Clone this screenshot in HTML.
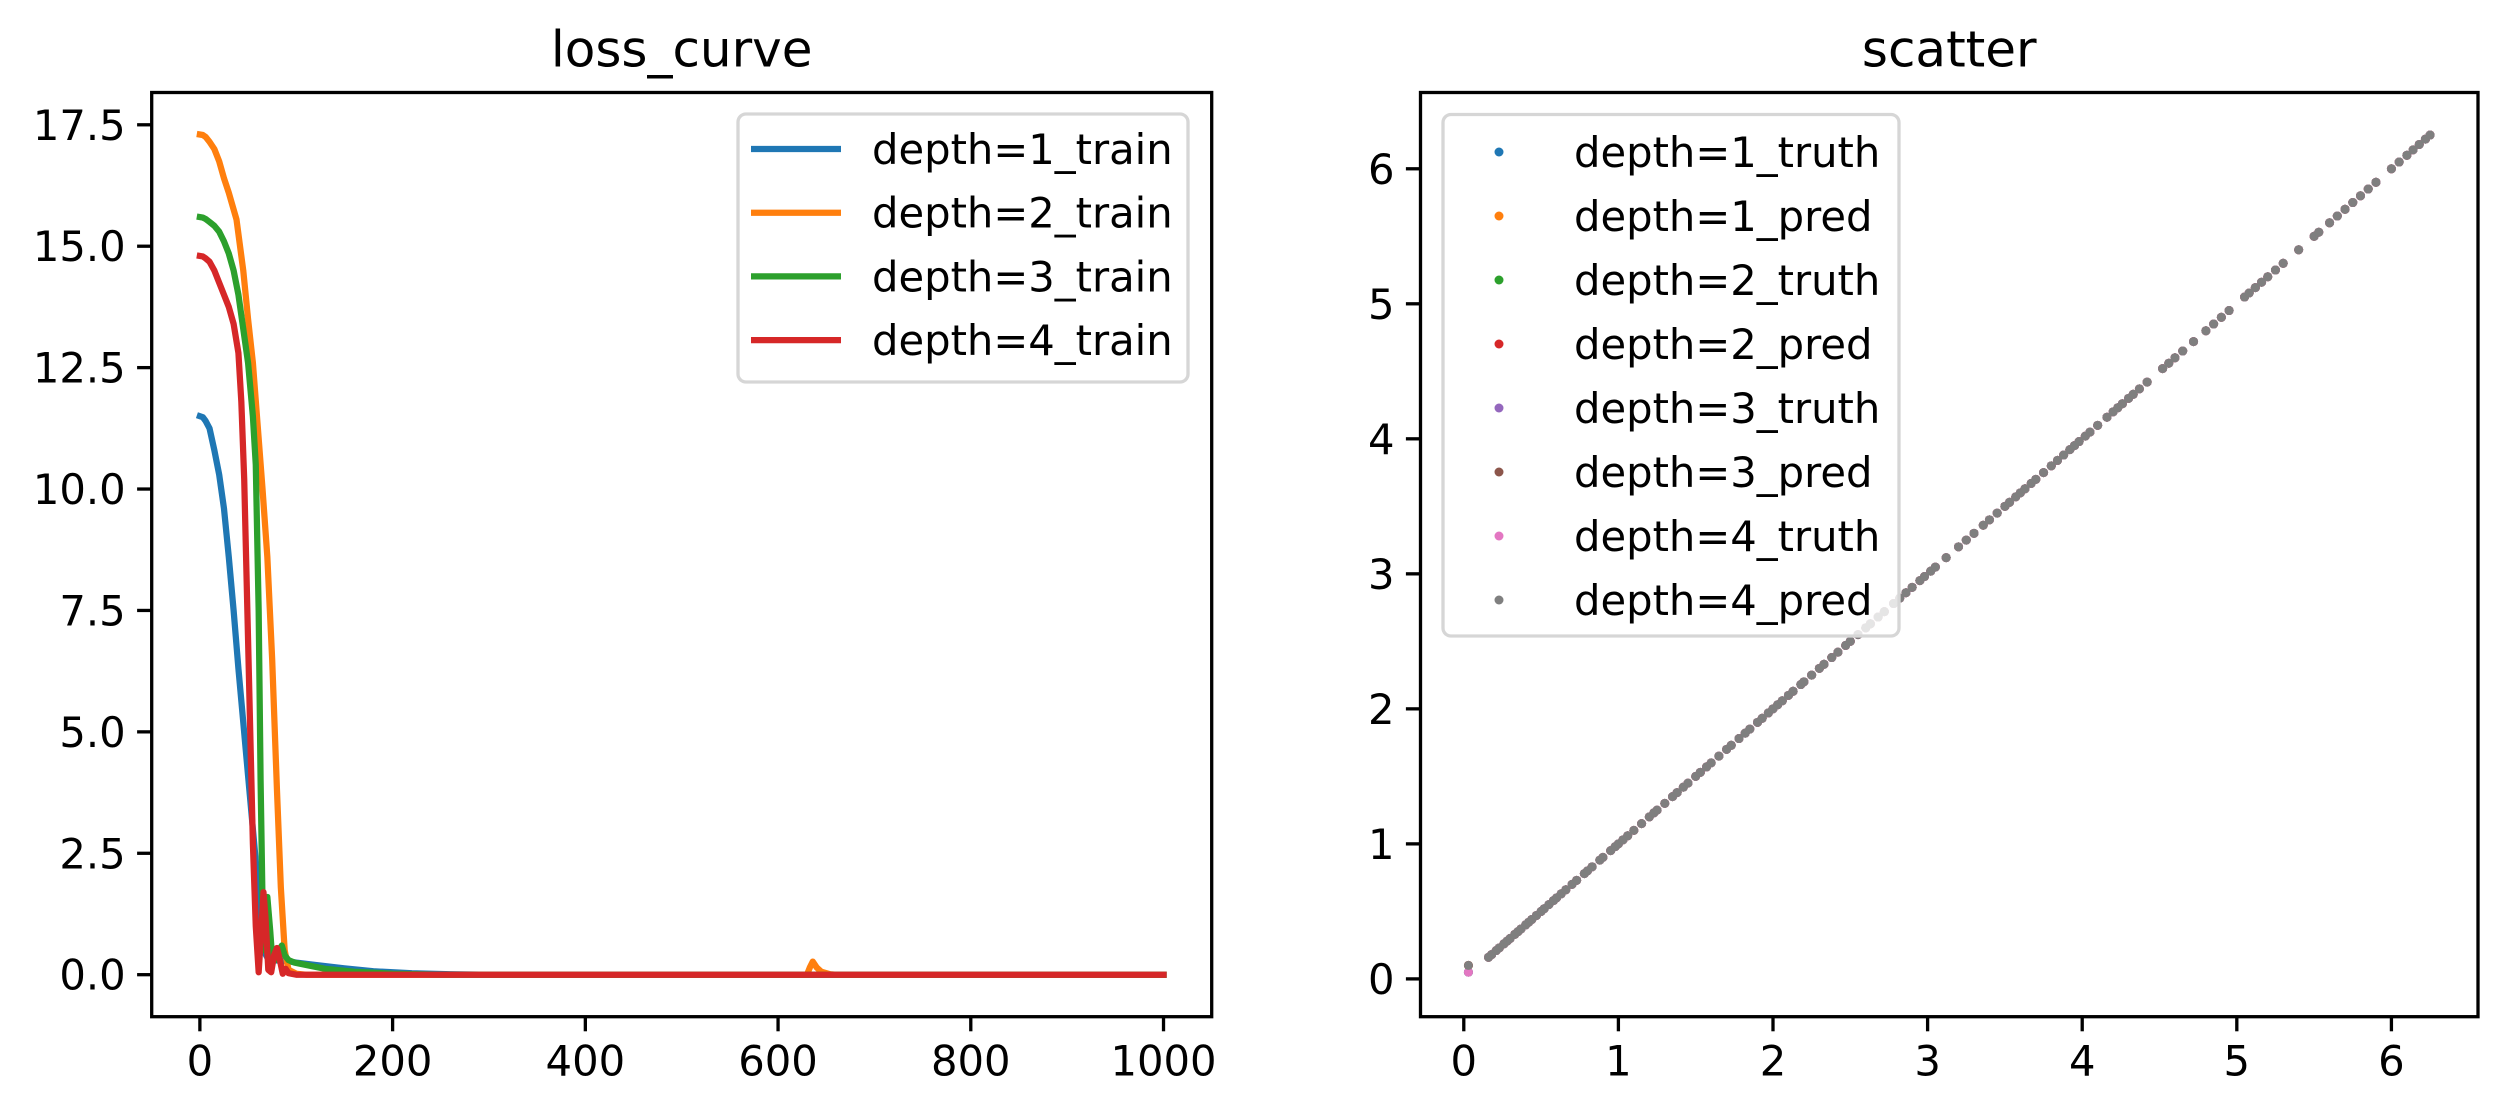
<!DOCTYPE html>
<html><head><meta charset="utf-8"><style>
html,body{margin:0;padding:0;background:#fff;}
svg{display:block;font-family:"DejaVu Sans","Liberation Sans",sans-serif;}
</style></head><body>
<svg id="fig" width="2506" height="1118" viewBox="0 0 2506 1118" xmlns="http://www.w3.org/2000/svg">
<rect width="2506" height="1118" fill="#fff"/>
<g id="left"></g>
<g id="right"></g>
</svg>
<script>
// ---- loss curve data ----
const seriesNames = ["depth=1_train","depth=2_train","depth=3_train","depth=4_train"];
const lossX1 = [0,3,6,10,15,20,25,30,35,40,45,50,55,60,63,66,70,75,90,100,120,150,180,220,260,300,1000];
const lossY1 = [11.5,11.48,11.4,11.25,10.8,10.3,9.6,8.6,7.5,6.3,5.2,4.1,3.0,1.9,1.1,0.5,0.35,0.3,0.28,0.25,0.2,0.13,0.07,0.03,0.01,0,0];
const lossX2 = [0,3,6,10,15,20,25,30,38,45,50,55,60,65,70,75,80,84,88,92,100,110,630,633,636,640,645,654,660,1000];
const lossY2 = [17.3,17.29,17.25,17.15,17.0,16.75,16.4,16.1,15.55,14.5,13.5,12.6,11.3,10.0,8.6,6.5,3.8,1.8,0.5,0.1,0.02,0,0,0.15,0.27,0.15,0.06,0.01,0,0];
const lossX3 = [0,3,6,10,15,20,25,30,35,40,45,50,55,58,61,63,65,67,70,73,75,78,82,85,88,92,98,110,130,160,200,250,1000];
const lossY3 = [15.6,15.59,15.56,15.5,15.42,15.3,15.1,14.85,14.5,14.0,13.3,12.6,11.5,10.5,7.5,4.0,1.5,0.5,1.6,0.9,0.35,0.3,0.5,0.6,0.4,0.3,0.25,0.2,0.12,0.06,0.02,0,0];
const lossX4 = [0,3,6,10,15,20,25,30,35,40,43,46,50,55,58,61,64,66,68,71,74,77,80,83,86,89,92,100,1000];
const lossY4 = [14.8,14.79,14.75,14.68,14.5,14.25,14.0,13.75,13.4,12.8,11.8,10.2,6.9,2.7,1.0,0.05,1.0,1.7,1.2,0.1,0.05,0.4,0.55,0.3,0.02,0.12,0.03,0,0];
const lossXTicks = [0,200,400,600,800,1000];
const lossYTicks = [0,2.5,5,7.5,10,12.5,15,17.5];
const lossYTickLabels = ["0.0","2.5","5.0","7.5","10.0","12.5","15.0","17.5"];
// ---- scatter data ----
const scatterNames = ["depth=1_truth","depth=1_pred","depth=2_truth","depth=2_pred","depth=3_truth","depth=3_pred","depth=4_truth","depth=4_pred"];
const truthX = [0.03,0.16,0.18,0.21,0.23,0.26,0.28,0.3,0.33,0.35,0.37,0.4,0.42,0.44,0.47,0.5,0.52,0.55,0.58,0.6,0.63,0.66,0.7,0.73,0.78,0.8,0.83,0.88,0.9,0.95,0.98,1.0,1.03,1.06,1.1,1.15,1.2,1.23,1.25,1.3,1.35,1.38,1.42,1.45,1.5,1.53,1.57,1.6,1.65,1.7,1.73,1.78,1.82,1.85,1.9,1.93,1.97,2.0,2.03,2.06,2.1,2.13,2.18,2.2,2.25,2.3,2.33,2.38,2.42,2.47,2.5,2.55,2.6,2.63,2.68,2.72,2.78,2.82,2.86,2.9,2.95,2.98,3.02,3.05,3.12,3.2,3.25,3.3,3.36,3.4,3.45,3.5,3.53,3.57,3.6,3.63,3.67,3.7,3.75,3.8,3.84,3.88,3.92,3.95,3.98,4.02,4.05,4.1,4.16,4.2,4.23,4.26,4.3,4.33,4.37,4.42,4.52,4.56,4.6,4.65,4.72,4.8,4.85,4.9,4.95,5.05,5.08,5.12,5.16,5.2,5.25,5.3,5.4,5.5,5.53,5.6,5.65,5.7,5.75,5.8,5.85,5.9,6.0,6.05,6.1,6.14,6.18,6.22,6.25];
const truthY = [0.05,0.16,0.18,0.21,0.23,0.26,0.28,0.3,0.33,0.35,0.37,0.4,0.42,0.44,0.47,0.5,0.52,0.55,0.58,0.6,0.63,0.66,0.7,0.73,0.78,0.8,0.83,0.88,0.9,0.95,0.98,1.0,1.03,1.06,1.1,1.15,1.2,1.23,1.25,1.3,1.35,1.38,1.42,1.45,1.5,1.53,1.57,1.6,1.65,1.7,1.73,1.78,1.82,1.85,1.9,1.93,1.97,2.0,2.03,2.06,2.1,2.13,2.18,2.2,2.25,2.3,2.33,2.38,2.42,2.47,2.5,2.55,2.6,2.63,2.68,2.72,2.78,2.82,2.86,2.9,2.95,2.98,3.02,3.05,3.12,3.2,3.25,3.3,3.36,3.4,3.45,3.5,3.53,3.57,3.6,3.63,3.67,3.7,3.75,3.8,3.84,3.88,3.92,3.95,3.98,4.02,4.05,4.1,4.16,4.2,4.23,4.26,4.3,4.33,4.37,4.42,4.52,4.56,4.6,4.65,4.72,4.8,4.85,4.9,4.95,5.05,5.08,5.12,5.16,5.2,5.25,5.3,5.4,5.5,5.53,5.6,5.65,5.7,5.75,5.8,5.85,5.9,6.0,6.05,6.1,6.14,6.18,6.22,6.25];
const predY = [0.1,0.16,0.18,0.21,0.23,0.26,0.28,0.3,0.33,0.35,0.37,0.4,0.42,0.44,0.47,0.5,0.52,0.55,0.58,0.6,0.63,0.66,0.7,0.73,0.78,0.8,0.83,0.88,0.9,0.95,0.98,1.0,1.03,1.06,1.1,1.15,1.2,1.23,1.25,1.3,1.35,1.38,1.42,1.45,1.5,1.53,1.57,1.6,1.65,1.7,1.73,1.78,1.82,1.85,1.9,1.93,1.97,2.0,2.03,2.06,2.1,2.13,2.18,2.2,2.25,2.3,2.33,2.38,2.42,2.47,2.5,2.55,2.6,2.63,2.68,2.72,2.78,2.82,2.86,2.9,2.95,2.98,3.02,3.05,3.12,3.2,3.25,3.3,3.36,3.4,3.45,3.5,3.53,3.57,3.6,3.63,3.67,3.7,3.75,3.8,3.84,3.88,3.92,3.95,3.98,4.02,4.05,4.1,4.16,4.2,4.23,4.26,4.3,4.33,4.37,4.42,4.52,4.56,4.6,4.65,4.72,4.8,4.85,4.9,4.95,5.05,5.08,5.12,5.16,5.2,5.25,5.3,5.4,5.5,5.53,5.6,5.65,5.7,5.75,5.8,5.85,5.9,6.0,6.05,6.1,6.14,6.18,6.22,6.25];
const scatterTicks = [0,1,2,3,4,5,6];

const NS="http://www.w3.org/2000/svg";
const colors=["#1f77b4","#ff7f0e","#2ca02c","#d62728","#9467bd","#8c564b","#e377c2","#7f7f7f"];
function mk(parent,tag,attrs){const e=document.createElementNS(NS,tag);for(const k in attrs)e.setAttribute(k,attrs[k]);parent.appendChild(e);return e;}

function axesFrame(g,L,T,R,B,sx,sy,xt,xl,yt,yl,title){
  for(let i=0;i<xt.length;i++){
    const x=sx(xt[i]);
    const t=mk(g,"line",{x1:x,x2:x,y1:B,y2:B+14.6,stroke:"#000","stroke-width":3.3});
    
    
    const tx=mk(g,"text",{x:x,y:B+59,"font-size":41.7,"text-anchor":"middle",fill:"#000"});
    tx.textContent=xl[i];
    
    
  }
  for(let i=0;i<yt.length;i++){
    const y=sy(yt[i]);
    const t=mk(g,"line",{x1:L-14.6,x2:L,y1:y,y2:y,stroke:"#000","stroke-width":3.3});
    
    
    const tx=mk(g,"text",{x:L-26,y:y+15,"font-size":41.7,"text-anchor":"end",fill:"#000"});
    tx.textContent=yl[i];
    
    
  }
  const tt=mk(g,"text",{x:(L+R)/2,y:T-26,"font-size":50,"text-anchor":"middle",fill:"#000"});
  tt.textContent=title;
  
  
}
function frame(g,L,T,R,B){
  const f=mk(g,"rect",{x:L,y:T,width:R-L,height:B-T,fill:"none",stroke:"#000","stroke-width":3.3});
  
  
}

// ---- left chart ----
(function(){
  const g=document.getElementById("left");
  const L=151.7,R=1211.7,T=92.5,B=1016.7;
  const xmin=-50,xmax=1050,ymin=-0.865,ymax=18.165;
  const sx=v=>L+(v-xmin)/(xmax-xmin)*(R-L);
  const sy=v=>B-(v-ymin)/(ymax-ymin)*(B-T);
  const xs=[lossX1,lossX2,lossX3,lossX4], ys=[lossY1,lossY2,lossY3,lossY4];
  const clip=mk(g,"clipPath",{id:"clipL"});mk(clip,"rect",{x:L,y:T,width:R-L,height:B-T});
  const pg=mk(g,"g",{"clip-path":"url(#clipL)"});
  for(let s=0;s<4;s++){
    let d="";
    for(let i=0;i<xs[s].length;i++)d+=(i?"L":"M")+sx(xs[s][i]).toFixed(2)+","+sy(ys[s][i]).toFixed(2);
    const p=mk(pg,"path",{d:d,fill:"none",stroke:colors[s],"stroke-width":6.25,"stroke-linejoin":"round","stroke-linecap":"square"});
    
    
  }
  frame(g,L,T,R,B);
  axesFrame(g,L,T,R,B,sx,sy,lossXTicks,lossXTicks.map(String),lossYTicks,lossYTickLabels,"loss_curve");
  const lg=mk(g,"g",{});
  
  
  mk(lg,"rect",{x:738,y:114,width:450,height:268,rx:8,fill:"#fff","fill-opacity":0.8,stroke:"#d6d6d6","stroke-width":3.3});
  for(let s=0;s<4;s++){
    const y=149+s*63.7;
    const ln=mk(lg,"line",{x1:751,x2:841,y1:y,y2:y,stroke:colors[s],"stroke-width":6.25});
    
    
    const t=mk(lg,"text",{x:872,y:y+15,"font-size":41.7,fill:"#000"});
    t.textContent=seriesNames[s];
    
    
  }
})();

// ---- right chart ----
(function(){
  const g=document.getElementById("right");
  const L=1420.5,R=2478,T=92.5,B=1016.7;
  const xmin=-0.28,xmax=6.56,ymin=-0.28,ymax=6.565;
  const sx=v=>L+(v-xmin)/(xmax-xmin)*(R-L);
  const sy=v=>B-(v-ymin)/(ymax-ymin)*(B-T);
  for(let s=0;s<8;s++){
    const yv=(s%2===0)?truthY:predY;
    const sg=mk(g,"g",{fill:colors[s]});
    
    
    for(let i=0;i<truthX.length;i++){
      const c=mk(sg,"circle",{cx:sx(truthX[i]).toFixed(2),cy:sy(yv[i]).toFixed(2),r:4.5});
      
      
    }
  }
  frame(g,L,T,R,B);
  axesFrame(g,L,T,R,B,sx,sy,scatterTicks,scatterTicks.map(String),scatterTicks,scatterTicks.map(String),"scatter");
  const lg=mk(g,"g",{});
  
  
  mk(lg,"rect",{x:1443,y:114.5,width:456,height:521.5,rx:8,fill:"#fff","fill-opacity":0.8,stroke:"#d6d6d6","stroke-width":3.3});
  for(let s=0;s<8;s++){
    const y=152+s*64;
    const c=mk(lg,"circle",{cx:1499,cy:y,r:4.5,fill:colors[s]});
    
    
    const t=mk(lg,"text",{x:1574,y:y+15,"font-size":41.7,fill:"#000"});
    t.textContent=scatterNames[s];
    
    
  }
})();
</script>
</body></html>
